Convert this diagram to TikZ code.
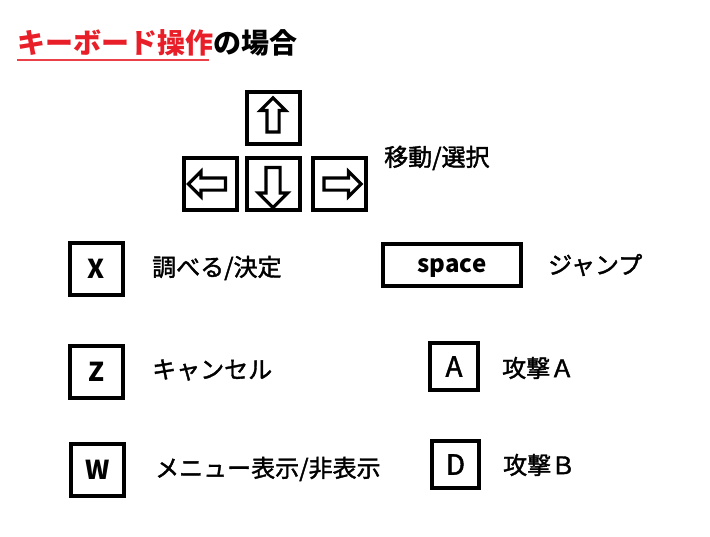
\documentclass[tikz,border=0pt]{standalone}
\usepackage{fontspec}
\setmainfont{Noto Sans CJK JP}
\newfontfamily\labelfont{Noto Sans CJK JP}[FakeBold=1.6]
\usetikzlibrary{shapes.arrows}
\definecolor{titlered}{RGB}{232,30,40}
\tikzset{
  keybox/.style={draw, line width=4pt, minimum width=53pt, minimum height=52pt, inner sep=0pt,
    font=\fontsize{26}{26}\selectfont\bfseries},
  keyarrow/.style={single arrow, draw, fill=white, line width=3.2pt, inner sep=4.5pt,
    single arrow head extend=6.5pt, minimum height=34pt},
  desc/.style={anchor=west, inner sep=0pt, font=\fontsize{24}{24}\selectfont\labelfont}
}
\begin{document}
\begin{tikzpicture}[x=1pt, y=-1pt]
\useasboundingbox (0,0) rectangle (710,536);

% Title
\node[anchor=base west, inner sep=0pt, text=titlered, font=\fontsize{28}{28}\selectfont\bfseries] (titlekey) at (17,53) {キーボード操作};
\node[anchor=base west, inner sep=0pt, font=\fontsize{28}{28}\selectfont\bfseries] (titlecase) at (titlekey.base east) {の場合};
\draw[titlered!85, line width=1.6pt] ([yshift=-7pt]titlekey.base west) -- ([yshift=-7pt, xshift=-4pt]titlekey.base east);

% Arrow keys
\node[keybox] (upkey) at (273,118) {};
\node[keybox] (leftkey) at (210,184) {};
\node[keybox] (downkey) at (273,184) {};
\node[keybox] (rightkey) at (339.5,184) {};
\node[keyarrow, rotate=90] (uparrow) at (upkey) {};
\node[keyarrow, rotate=180, minimum height=37pt] (leftarrow) at (leftkey) {};
\node[keyarrow, rotate=-90, minimum height=40pt, inner sep=5.5pt, single arrow head extend=7.5pt] (downarrow) at (downkey) {};
\node[keyarrow, minimum height=37pt] (rightarrow) at (rightkey) {};
\node[desc] (movelabel) at (384,158) {移動/選択};

% Other keys
\node[keybox] (xkey) at (96.5,269) {X};
\node[desc] (xlabel) at (152,268) {調べる/決定};
\node[keybox, minimum width=138pt, minimum height=42pt, text depth=0pt, font=\fontsize{24}{24}\selectfont\bfseries] (spacekey) at (452,265) {space};
\node[desc] (spacelabel) at (548,265) {ジャンプ};
\node[keybox] (zkey) at (96.5,372) {Z};
\node[desc] (zlabel) at (152,370) {キャンセル};
\node[keybox, minimum width=48pt, minimum height=47pt, font=\fontsize{28}{28}\labelfont] (akey) at (454,366.5) {A};
\node[desc] (alabel) at (502,368) {攻撃Ａ};
\node[keybox] (wkey) at (97.5,470) {W};
\node[desc] (wlabel) at (155,469) {メニュー表示/非表示};
\node[keybox, minimum width=47pt, minimum height=47pt, font=\fontsize{28}{28}\labelfont] (dkey) at (455.5,464.5) {D};
\node[desc] (dlabel) at (503,465) {攻撃Ｂ};

\end{tikzpicture}
\end{document}
